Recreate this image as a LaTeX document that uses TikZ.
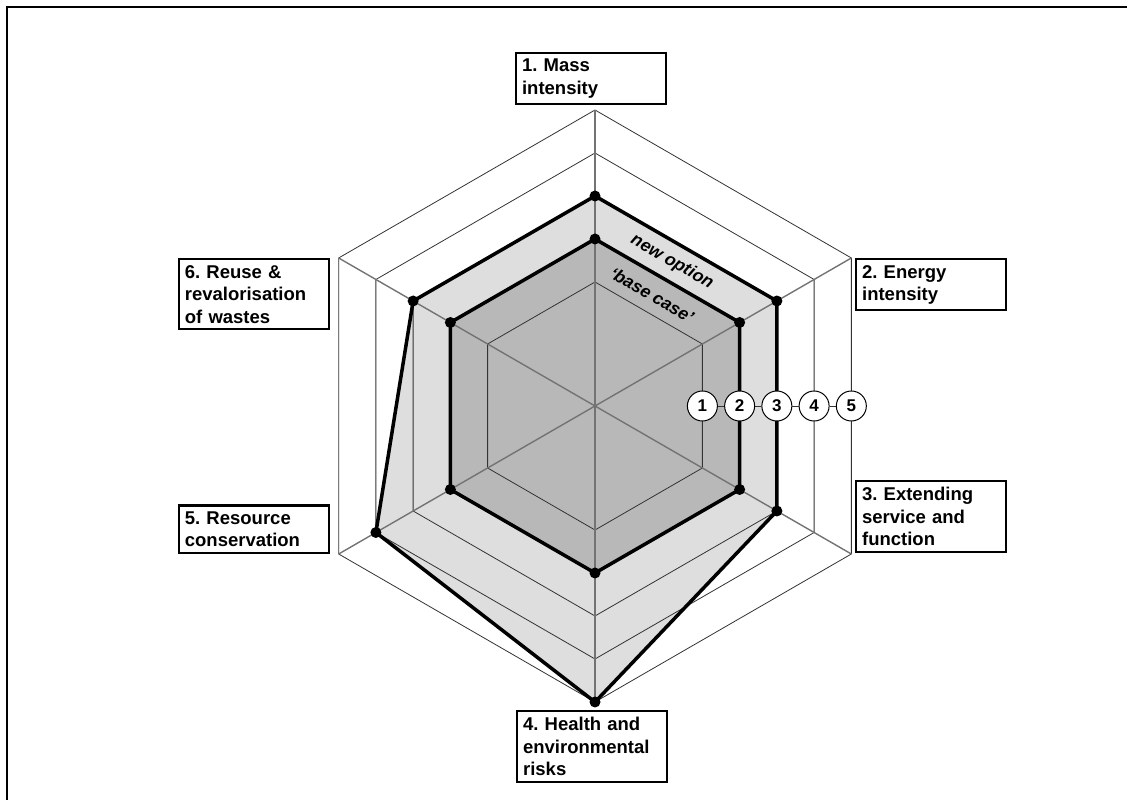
\documentclass[tikz,border=0pt]{standalone}
\usepackage{fontspec}
\setsansfont{Liberation Sans}
\usetikzlibrary{calc}
\frenchspacing
\definecolor{basefill}{gray}{0.72}
\definecolor{newfill}{gray}{0.87}
\definecolor{spokegray}{gray}{0.45}
\tikzset{
  critbox/.style={draw, line width=2.2pt, fill=white, text width=138pt, inner sep=6pt,
    align=left, font=\sffamily\bfseries\fontsize{18.5}{22.5}\selectfont},
  ringline/.style={line width=0.8pt, black!80},
  spoke/.style={line width=1.4pt, spokegray},
  profile/.style={line width=3.5pt, line join=round},
  dot/.style={circle, fill=black, inner sep=0pt, minimum size=11pt},
  scorecircle/.style={circle, draw, line width=1pt, fill=white, minimum size=30pt,
    inner sep=0pt, font=\sffamily\bfseries\fontsize{17}{17}\selectfont},
  bandlabel/.style={font=\sffamily\bfseries\itshape\fontsize{17.5}{17.5}\selectfont, rotate=-30}
}

\begin{document}
\begin{tikzpicture}[x=1pt,y=1pt]
    \useasboundingbox (0,0) rectangle (1127,800);
    % frame (left and top edges)
    \draw[line width=2pt] (7,0) -- (7,793) -- (1127,793);

    \coordinate (c) at (595,394);
    % axis end points and profile points
    \foreach \i/\a in {1/90, 2/30, 3/-30, 4/-90, 5/210, 6/150}
        \coordinate (v\i) at ($(c)+(\a:296)$);
    \foreach \i/\a/\s in {1/90/3, 2/30/3, 3/-30/3, 4/-90/5, 5/210/4, 6/150/3}
        \coordinate (n\i) at ($(c)+(\a:{81+43*\s})$);
    \foreach \i/\a in {1/90, 2/30, 3/-30, 4/-90, 5/210, 6/150}
        \coordinate (b\i) at ($(c)+(\a:167)$);

    % new option and base case areas
    \fill[newfill] (n1) -- (n2) -- (n3) -- (n4) -- (n5) -- (n6) -- cycle;
    \fill[basefill] (b1) -- (b2) -- (b3) -- (b4) -- (b5) -- (b6) -- cycle;

    % rings
    \foreach \k [evaluate=\k as \r using 81+43*\k] in {1,...,5}
        \draw[ringline] ($(c)+(90:\r)$) \foreach \a in {30,-30,-90,210,150} { -- ($(c)+(\a:\r)$) } -- cycle;

    % spokes
    \foreach \i in {1,...,6}
        \draw[spoke] (c) -- (v\i);

    % profiles
    \draw[profile] (n1) -- (n2) -- (n3) -- (n4) -- (n5) -- (n6) -- cycle;
    \draw[profile] (b1) -- (b2) -- (b3) -- (b4) -- (b5) -- (b6) -- cycle;
    \foreach \i in {1,...,6} {
        \node[dot] (dn\i) at (n\i) {};
        \node[dot] (db\i) at (b\i) {};
    }

    % band labels
    \node[bandlabel] (newlbl) at (672,538) {new option};
    \node[bandlabel] (baselbl) at (652,505) {`base case'};

    % score scale
    \foreach \s in {1,...,5}
        \node[scorecircle] (s\s) at ($(c)+(0:{(81+43*\s)*0.866})$) {\s};
    \foreach \s [evaluate=\s as \t using int(\s+1)] in {1,...,4}
        \draw[ringline] (s\s) -- (s\t);

    % criteria
    \node[critbox, anchor=south west] (mass) at (515,695) {1. Mass\\intensity};
    \node[critbox, anchor=north west] (energy) at (855,542) {2. Energy\\intensity};
    \node[critbox, anchor=south west] (service) at (855,247) {3. Extending\\service and\\function};
    \node[critbox, anchor=north west] (health) at (516,90) {4. Health and\\environmental\\risks};
    \node[critbox, anchor=south east] (resource) at (330,246) {5. Resource\\conservation};
    \node[critbox, anchor=north east] (reuse) at (330,542) {6. Reuse \&\\revalorisation\\of wastes};
\end{tikzpicture}
\end{document}
